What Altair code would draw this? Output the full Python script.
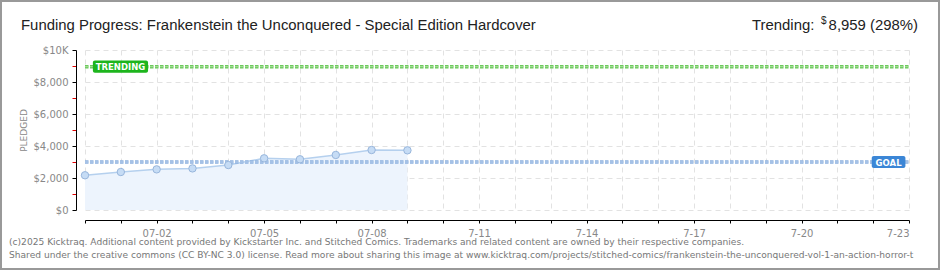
import altair as alt
import pandas as pd

# ---------------- data ----------------
all_days = ["06-30", "07-01", "07-02", "07-03", "07-04", "07-05", "07-06", "07-07",
            "07-08", "07-09", "07-10", "07-11", "07-12", "07-13", "07-14", "07-15",
            "07-16", "07-17", "07-18", "07-19", "07-20", "07-21", "07-22", "07-23"]
dates = ["06-30", "07-01", "07-02", "07-03", "07-04", "07-05", "07-06", "07-07", "07-08", "07-09"]
pledged = [2170, 2375, 2540, 2600, 2810, 3230, 3170, 3440, 3750, 3730]
x_label_days = ["07-02", "07-05", "07-08", "07-11", "07-14", "07-17", "07-20", "07-23"]
x_label_text = ["07-02", "07-05", "07-08", "7-11", "7-14", "7-17", "7-20", "7-23"]
y_tick_vals = [0, 2000, 4000, 6000, 8000, 10000]
y_tick_text = ["$0", "$2,000", "$4,000", "$6,000", "$8,000", "$10K"]
goal = 3000
trending = 8959
trending_text = "8,959 (298%)"
title_text = "Funding Progress: Frankenstein the Unconquered - Special Edition Hardcover"
footer1 = ("(c)2025 Kicktraq. Additional content provided by Kickstarter Inc. and Stitched Comics. "
           "Trademarks and related content are owned by their respective companies.")
footer2 = ("Shared under the creative commons (CC BY-NC 3.0) license. Read more about sharing this image at "
           "www.kicktraq.com/projects/stitched-comics/frankenstein-the-unconquered-vol-1-an-action-horror-t")

# ---------------- tables ----------------
df = pd.DataFrame({"day": [all_days.index(d) for d in dates], "pledged": pledged})
last_day = len(all_days) - 1
lines_df = pd.DataFrame({"v": [trending, goal], "kind": ["trend", "goal"], "x0": [0, 0], "x1": [last_day, last_day]})

x_pos = [all_days.index(d) for d in x_label_days]
x_expr = " : ".join(f"datum.value == {p} ? '{t}'" for p, t in zip(x_pos, x_label_text)) + " : ''"
y_expr = " : ".join(f"datum.value == {v} ? '{t}'" for v, t in zip(y_tick_vals, y_tick_text)) + " : ''"

GRAY = "#888888"
xscale = alt.Scale(domain=[0, last_day], nice=False, zero=False)
yscale = alt.Scale(domain=[0, 10000], nice=False)

xaxis = alt.Axis(values=list(range(len(all_days))), tickCount=100, labelExpr=x_expr, title=None,
                 labelOverlap=False,
                 grid=True, gridDash=[5, 4], gridColor="#e2e2e2",
                 domainColor="black", tickColor="black", tickSize=3, offset=10,
                 labelColor=GRAY, labelFont="DejaVu Sans", labelFontSize=10, labelPadding=5)
yaxis = alt.Axis(values=list(range(0, 10001, 1000)), tickCount=100, labelExpr=y_expr, title="PLEDGED",
                 labelOverlap=False,
                 grid=True, gridDash=[5, 4], gridColor="#e2e2e2",
                 gridOpacity={"condition": {"test": "datum.value % 2000 != 0", "value": 0}, "value": 1},
                 tickColor={"condition": {"test": "datum.value % 2000 != 0", "value": "#e00000"}, "value": "black"},
                 domainColor="black", tickSize=4, offset=9,
                 labelColor=GRAY, labelFont="DejaVu Sans", labelFontSize=10, labelPadding=4,
                 titleColor=GRAY, titleFont="DejaVu Sans", titleFontSize=9, titleFontWeight="normal",
                 titlePadding=5)

base = alt.Chart(df)
area = base.mark_area(color="#edf4fd", opacity=1).encode(
    x=alt.X("day:Q", scale=xscale, axis=xaxis),
    y=alt.Y("pledged:Q", scale=yscale, axis=yaxis))
line = base.mark_line(color="#b5d0ee", strokeWidth=1.5).encode(x="day:Q", y="pledged:Q")
pts = base.mark_circle(size=55, color="#c6dcf5", stroke="#98b6dc", strokeWidth=1, opacity=1).encode(
    x="day:Q", y="pledged:Q")

tr = alt.Chart(lines_df).transform_filter("datum.kind == 'trend'")
gl = alt.Chart(lines_df).transform_filter("datum.kind == 'goal'")
tr_outer = tr.mark_rule(color="#6cc95c", strokeWidth=3.5, strokeDash=[3.5, 1.5]).encode(x="x0:Q", x2="x1", y="v:Q")
tr_inner = tr.mark_rule(color="#a9e09b", strokeWidth=1, strokeDash=[3.5, 1.5]).encode(x="x0:Q", x2="x1", y="v:Q")
gl_outer = gl.mark_rule(color="#8eb1de", strokeWidth=3.5, strokeDash=[3.5, 1.5]).encode(x="x0:Q", x2="x1", y="v:Q")
gl_inner = gl.mark_rule(color="#bcd2ef", strokeWidth=1, strokeDash=[3.5, 1.5]).encode(x="x0:Q", x2="x1", y="v:Q")

# label boxes on the lines
box_df = pd.DataFrame({
    "label": ["TRENDING", "GOAL"],
    "v": [trending, goal],
    "a": [0.22, 21.96],
    "b": [1.76, 22.9],
    "c": ["#1db51d", "#3b86d6"],
})
boxes = alt.Chart(box_df).transform_calculate(
    top="datum.v + 380", bot="datum.v - 380"
).mark_rect(cornerRadius=2).encode(
    x="a:Q", x2="b", y="top:Q", y2="bot", color=alt.Color("c:N", scale=None))
box_text = alt.Chart(box_df).transform_calculate(mid="(datum.a + datum.b) / 2").mark_text(
    color="white", font="DejaVu Sans", fontSize=8.5, fontWeight="bold", baseline="middle", dy=0.5
).encode(x="mid:Q", y="v:Q", text="label:N")


def txt(s, x, y, **kw):
    return alt.Chart(alt.Data(values=[{"t": s}])).mark_text(**kw).encode(
        x=alt.value(x), y=alt.value(y), text="t:N")


OX, OY = 85, 50
HF = "Liberation Sans"
title = txt(title_text, 21 - OX, 30 - OY, align="left", baseline="alphabetic",
            font=HF, fontSize=14.9, color="#222222")
trend_lbl = txt("Trending:", 752 - OX, 30 - OY, align="left", baseline="alphabetic",
                font=HF, fontSize=14.9, color="#222222")
dollar = txt("$", 821 - OX, 24 - OY, align="left", baseline="alphabetic",
             font=HF, fontSize=10, color="#222222")
trend_val = txt(trending_text, 918 - OX, 30 - OY, align="right", baseline="alphabetic",
                font=HF, fontSize=14.9, color="#222222")
f1 = txt(footer1, 9 - OX, 245 - OY, align="left", baseline="alphabetic",
         font="DejaVu Sans", fontSize=9.1, color="#777777")
f2 = txt(footer2, 9 - OX, 258 - OY, align="left", baseline="alphabetic",
         font="DejaVu Sans", fontSize=9.1, color="#777777")

frame = alt.Chart(alt.Data(values=[{"k": 1}])).mark_rect(
    fill="transparent", stroke="#999999", strokeWidth=2).encode(
    x=alt.value(1 - OX), x2=alt.value(939 - OX), y=alt.value(1 - OY), y2=alt.value(269 - OY))

chart = alt.layer(
    area, line, gl_outer, gl_inner, tr_outer, tr_inner, pts, boxes, box_text,
    title, trend_lbl, dollar, trend_val, f1, f2, frame
).resolve_scale(color="independent").properties(
    width=824, height=160,
    padding={"left": OX, "top": OY, "right": 940 - OX - 824, "bottom": 270 - OY - 160},
    autosize=alt.AutoSizeParams(type="none"),
    background="white",
).configure_view(stroke=None)

chart.save("out.html", embed_options={"renderer": "svg", "actions": False})
